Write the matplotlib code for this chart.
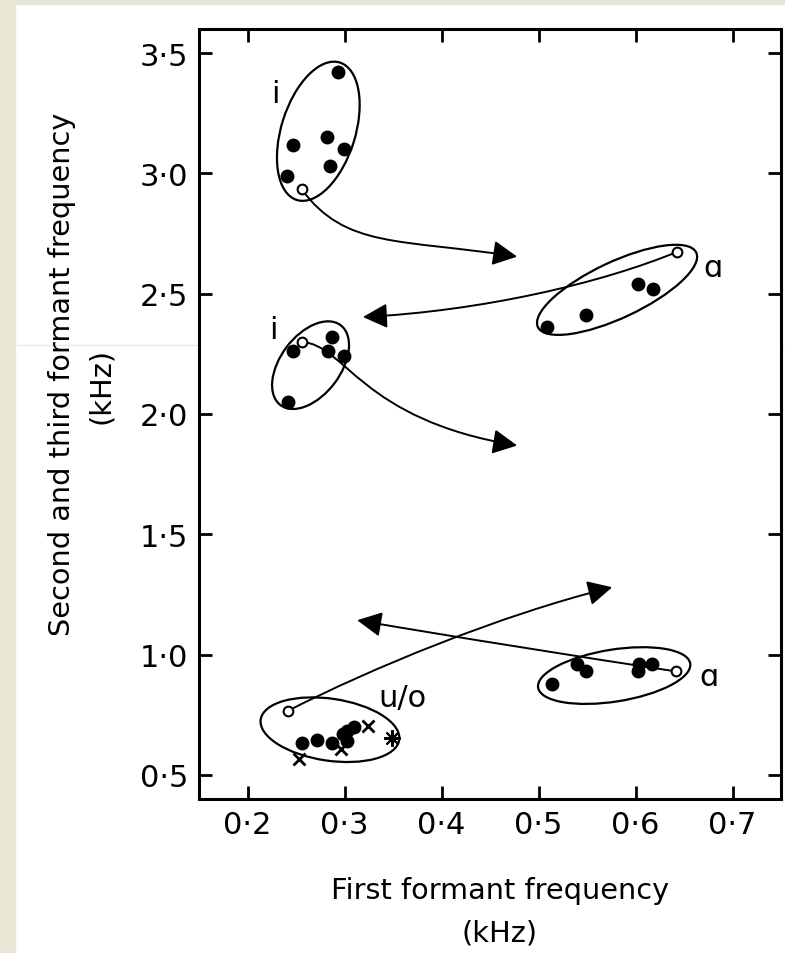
import matplotlib.pyplot as plt
from matplotlib.patches import Ellipse, FancyArrowPatch, Rectangle
from matplotlib.path import Path
from matplotlib import transforms

## tick values and labels (kHz)
x_ticks = [0.2, 0.3, 0.4, 0.5, 0.6, 0.7]
x_ticklabels = ['0·2', '0·3', '0·4', '0·5', '0·6', '0·7']
y_ticks = [0.5, 1.0, 1.5, 2.0, 2.5, 3.0, 3.5]
y_ticklabels = ['0·5', '1·0', '1·5', '2·0', '2·5', '3·0', '3·5']

## measured formants (filled circles): F1 and F2/F3 in kHz
i_hi_f1 = [0.293, 0.247, 0.282, 0.299, 0.285, 0.241]
i_hi_f = [3.42, 3.12, 3.15, 3.10, 3.03, 2.99]
a_hi_f1 = [0.603, 0.618, 0.549, 0.509]
a_hi_f = [2.54, 2.52, 2.41, 2.36]
i_lo_f1 = [0.247, 0.287, 0.283, 0.299, 0.242]
i_lo_f = [2.26, 2.32, 2.26, 2.24, 2.05]
uo_f1 = [0.256, 0.272, 0.287, 0.298, 0.303, 0.310, 0.303]
uo_f = [0.634, 0.646, 0.634, 0.671, 0.684, 0.700, 0.642]
a_lo_f1 = [0.514, 0.540, 0.549, 0.604, 0.603, 0.617]
a_lo_f = [0.876, 0.959, 0.934, 0.963, 0.934, 0.963]

## other tokens in the u/o group
uo_x_f1 = [0.324, 0.253, 0.296]
uo_x_f = [0.705, 0.567, 0.609]
uo_star_f1 = [0.349]
uo_star_f = [0.654]

## open circles (one per group): i-hi, a-hi, i-lo, u/o, a-lo
open_f1 = [0.256, 0.643, 0.256, 0.242, 0.642]
open_f = [2.933, 2.674, 2.299, 0.767, 0.930]

## group labels
labels = ['i', 'ɑ', 'i', 'u/o', 'ɑ']
label_f1 = [0.229, 0.680, 0.227, 0.360, 0.676]
label_f = [3.33, 2.61, 2.35, 0.82, 0.91]


fig = plt.figure(figsize=(7.85, 9.54), dpi=100)
fig.patch.set_facecolor('white')
beige = '#EAE6D5'
fig.add_artist(Rectangle((0, 0), 15 / 785, 1, transform=fig.transFigure, color=beige, zorder=0))
fig.add_artist(Rectangle((0, 1 - 5 / 954), 1, 5 / 954, transform=fig.transFigure, color=beige, zorder=0))
# faint scan line
fig.add_artist(plt.Line2D([15 / 785, 1], [1 - 346 / 954] * 2, transform=fig.transFigure,
                          color='#efeadb', lw=1, zorder=0))

ax = fig.add_axes([199 / 785, 154 / 954, 582 / 785, 770 / 954])
ax.set_xlim(0.15, 0.75)
ax.set_ylim(0.4, 3.6)

ax.set_xticks(x_ticks)
ax.set_xticklabels(x_ticklabels)
ax.set_yticks(y_ticks)
ax.set_yticklabels(y_ticklabels)
ax.tick_params(direction='in', length=9.5, width=2, top=True, right=True,
               labelsize=22, pad=8, color='black')
for s in ax.spines.values():
    s.set_linewidth(2.2)

## vowel group outlines: centre (kHz), width/height (inches), angle
outlines = [
    (0.273, 3.175, 1.44, 0.74, 72.6),
    (0.581, 2.516, 1.75, 0.56, 25.2),
    (0.265, 2.203, 1.00, 0.60, 53.0),
    (0.285, 0.688, 1.40, 0.62, -8.4),
    (0.578, 0.913, 1.54, 0.52, 9.0),
]
for cx, cy, w, h, ang in outlines:
    tr = fig.dpi_scale_trans + transforms.ScaledTranslation(cx, cy, ax.transData)
    ax.add_patch(Ellipse((0, 0), w, h, angle=ang, transform=tr,
                         fill=False, lw=1.6, color='black'))

## formant transitions
arrows = [
    [(0.256, 2.933), (0.301, 2.687), (0.357, 2.729), (0.478, 2.654)],
    [(0.643, 2.674), (0.563, 2.541), (0.440, 2.428), (0.319, 2.403)],
    [(0.256, 2.299), (0.301, 2.290), (0.316, 1.977), (0.478, 1.869)],
    [(0.242, 0.767), (0.327, 0.942), (0.460, 1.164), (0.576, 1.280)],
    [(0.642, 0.930), (0.535, 0.996), (0.420, 1.069), (0.313, 1.143)],
]
codes = [Path.MOVETO, Path.CURVE4, Path.CURVE4, Path.CURVE4]
for pts in arrows:
    ar = FancyArrowPatch(path=Path(pts, codes),
                         arrowstyle='-|>,head_length=0.75,head_width=0.38',
                         mutation_scale=20, lw=1.4, color='black', zorder=3)
    ax.add_patch(ar)

ax.plot(i_hi_f1, i_hi_f, 'o', color='black', ms=9, zorder=4)
ax.plot(a_hi_f1, a_hi_f, 'o', color='black', ms=9, zorder=4)
ax.plot(i_lo_f1, i_lo_f, 'o', color='black', ms=9, zorder=4)
ax.plot(uo_f1, uo_f, 'o', color='black', ms=9, zorder=4)
ax.plot(a_lo_f1, a_lo_f, 'o', color='black', ms=9, zorder=4)
ax.plot(uo_x_f1, uo_x_f, 'x', color='black', ms=8, mew=2, zorder=4)
ax.plot(uo_star_f1, uo_star_f, marker=(8, 2, 0), ls='none', color='black', ms=12, mew=1.5, zorder=4)
ax.plot(open_f1, open_f, 'o', mfc='white', mec='black', ms=7, mew=1.5, zorder=5)

for t, x, y in zip(labels, label_f1, label_f):
    ax.text(x, y, t, fontsize=22, ha='center', va='center')

fig.text(62 / 785, 1 - 374 / 954, 'Second and third formant frequency',
         rotation=90, fontsize=20.7, ha='center', va='center')
fig.text(101 / 785, 1 - 386 / 954, '(kHz)', rotation=90, fontsize=20.7, ha='center', va='center')
fig.text(500 / 785, 1 - 891 / 954, 'First formant frequency', fontsize=20.7, ha='center', va='center')
fig.text(500 / 785, 1 - 934 / 954, '(kHz)', fontsize=20.7, ha='center', va='center')

fig.savefig('out.png', dpi=100)
